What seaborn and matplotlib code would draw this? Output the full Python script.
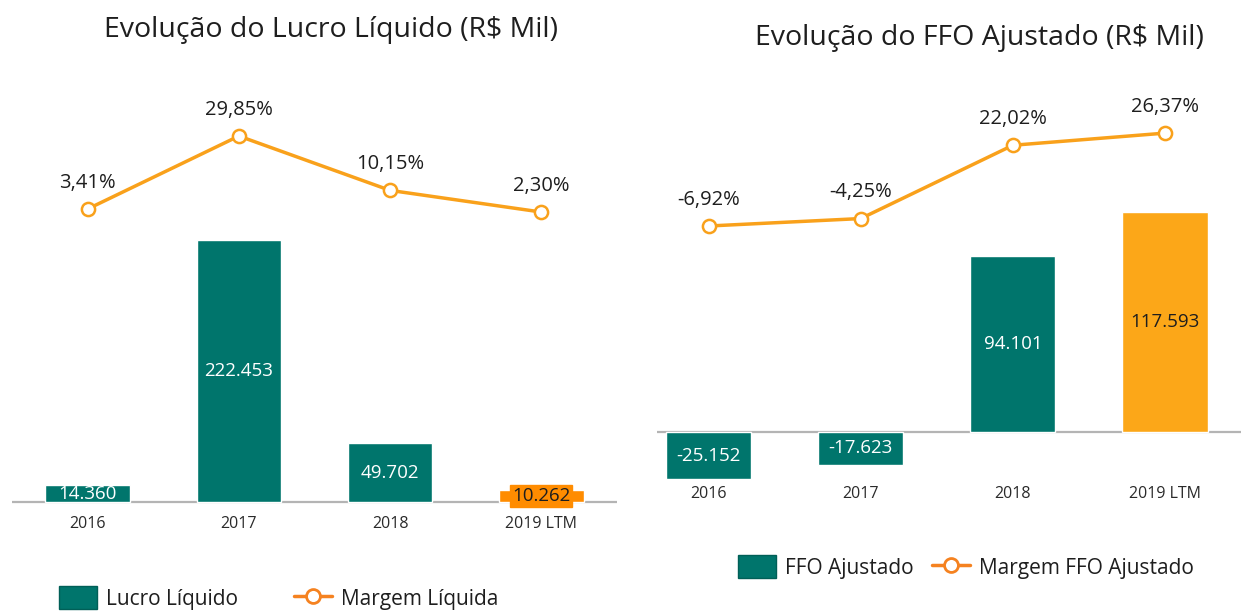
import matplotlib
matplotlib.use("Agg")
import matplotlib.pyplot as plt
from matplotlib.patches import Patch
from matplotlib.lines import Line2D
import seaborn as sns
import numpy as np

# data
anos = ["2016", "2017", "2018", "2019 LTM"]
lucro_liquido = [14360, 222453, 49702, 10262]
margem_liquida = [3.41, 29.85, 10.15, 2.30]
ffo_ajustado = [-25152, -17623, 94101, 117593]
margem_ffo = [-6.92, -4.25, 22.02, 26.37]

teal = "#00756C"
line_orange = "#F9A11B"
legend_orange = "#F58220"
cores_lucro = [teal, teal, teal, "#FF8C00"]
cores_ffo = [teal, teal, teal, "#FCA718"]
txt = "#1E1E1E"

sns.set_style("white")
plt.rcParams["font.family"] = ["Open Sans", "DejaVu Sans"]

fig = plt.figure(figsize=(12.43, 6.13), dpi=100)
W, H = 1243, 613


def fmt_mil(v):
    return f"{v:,.0f}".replace(",", ".")


def fmt_pct(v):
    return f"{v:.2f}%".replace(".", ",")


def painel(rect, valores, cores, margens, ylim_bar, ylim_line, xlim, label_bbox=None):
    ax = fig.add_axes(rect)
    sns.barplot(x=anos, y=valores, hue=anos, palette=cores, legend=False,
                width=0.56, ax=ax, saturation=1)
    ax.set_xlim(*xlim)
    ax.set_ylim(*ylim_bar)
    ax.axhline(0, color="#B4B4B4", lw=1.6, zorder=0)
    for s in ax.spines.values():
        s.set_visible(False)
    ax.set_yticks([])
    ax.set_ylabel("")
    ax.tick_params(axis="x", length=0, pad=4, labelsize=11.5, labelcolor="#2A2A2A")

    for i, cont in enumerate(ax.containers):
        cor = "white" if cores[i] == teal else txt
        lbls = ax.bar_label(cont, labels=[fmt_mil(valores[i])], label_type="center",
                            color=cor, fontsize=13.5)
        if label_bbox is not None and i == 3:
            lbls[0].set_bbox(label_bbox)

    ax2 = ax.twinx()
    ax2.plot(range(len(anos)), margens, color=line_orange, lw=2.5,
             marker="o", markersize=9.5, markerfacecolor="white",
             markeredgecolor=line_orange, markeredgewidth=1.8)
    ax2.set_ylim(*ylim_line)
    ax2.set_yticks([])
    for s in ax2.spines.values():
        s.set_visible(False)
    for i, m in enumerate(margens):
        ax2.annotate(fmt_pct(m), (i, m), xytext=(0, 19), textcoords="offset points",
                     ha="center", va="center", fontsize=14.5, color=txt)
    return ax


# painel esquerdo
painel([12 / W, (H - 510) / H, 605 / W, 430 / H], lucro_liquido, cores_lucro,
       margem_liquida, (-6780, 357627), (-105.65, 50.15), (-0.5, 3.5),
       label_bbox=dict(boxstyle="square,pad=0.1", facecolor="#FF8C00",
                       edgecolor="#FF8C00"))

# painel direito
painel([657 / W, (H - 480) / H, 584 / W, 400 / H], ffo_ajustado, cores_ffo,
       margem_ffo, (-25668, 188235), (-97.96, 45.41), (-0.34, 3.5))

fig.text(331 / W, 1 - 30 / H, "Evolução do Lucro Líquido (R$ Mil)",
         ha="center", va="center", fontsize=20.5, color=txt)
fig.text(979 / W, 1 - 38 / H, "Evolução do FFO Ajustado (R$ Mil)",
         ha="center", va="center", fontsize=20.5, color=txt)


def legenda(nome_bar, nome_linha, cx, cy, colsp):
    handles = [Patch(facecolor=teal, edgecolor="#005F57"),
               Line2D([0], [0], color=legend_orange, lw=2.5, marker="o",
                      markersize=10, markerfacecolor="white",
                      markeredgecolor=legend_orange, markeredgewidth=2)]
    fig.legend(handles, [nome_bar, nome_linha], loc="center",
               bbox_to_anchor=(cx / W, 1 - cy / H), ncol=2, frameon=False,
               fontsize=15, handlelength=1.8, handleheight=1.25,
               columnspacing=colsp, handletextpad=0.45, labelcolor=txt)


legenda("Lucro Líquido", "Margem Líquida", 279, 598, 2.7)
legenda("FFO Ajustado", "Margem FFO Ajustado", 966, 567, 0.9)

fig.savefig("out.png", dpi=100)
